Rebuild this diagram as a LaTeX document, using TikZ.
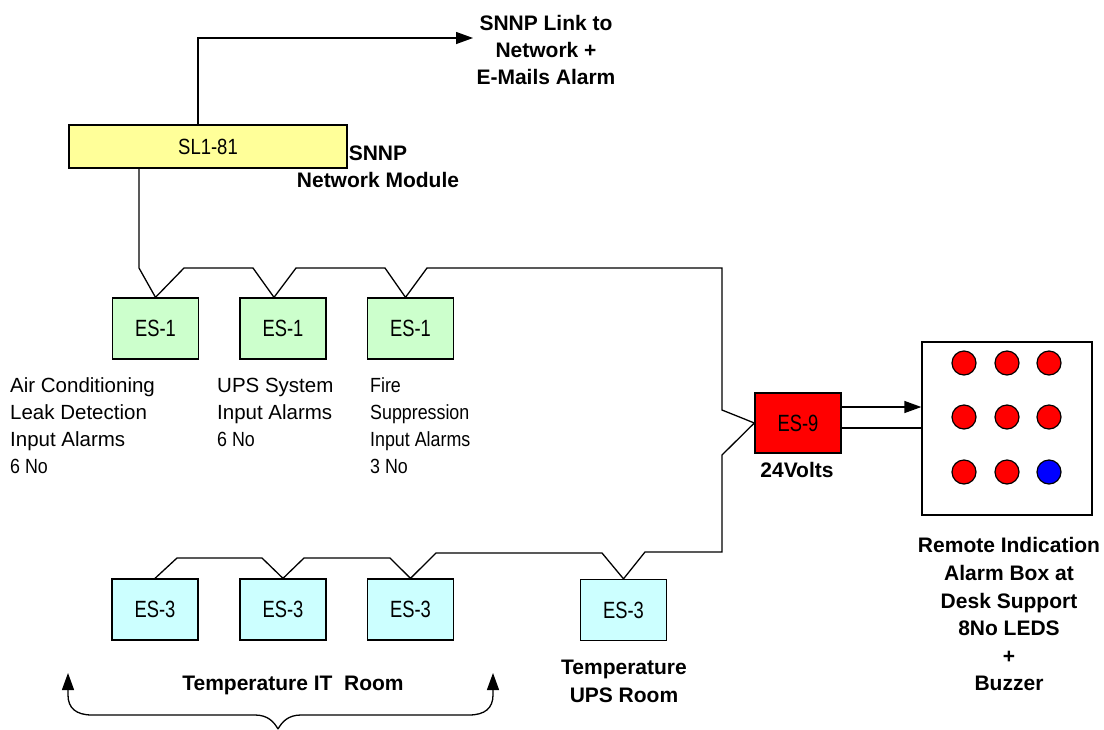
\documentclass[tikz,border=0pt]{standalone}
\usepackage{fontspec}
\setmainfont{Liberation Sans}
\newfontfamily\narrowA[FakeStretch=0.78]{Liberation Sans}
\newfontfamily\narrowS[FakeStretch=0.84]{Liberation Sans}
\newfontfamily\narrowB[FakeStretch=0.87]{Liberation Sans}
\usetikzlibrary{arrows.meta}
\definecolor{slyellow}{HTML}{FFFF99}
\definecolor{esgreen}{HTML}{CCFFCC}
\definecolor{escyan}{HTML}{CCFFFF}
\definecolor{esred}{HTML}{FF0000}
\definecolor{ledblue}{HTML}{0000FF}
\newcommand\boxfont{\narrowA\fontsize{23.5}{26}\selectfont}
\newcommand\lblfont{\fontsize{20.5}{27}\selectfont}
\newcommand\lblnarrow{\narrowB\fontsize{20.5}{27}\selectfont}
\newcommand\bfont{\bfseries\fontsize{21}{27}\selectfont}
\begin{document}
\begin{tikzpicture}[x=1pt,y=-1pt,
  wire/.style={line width=1.3pt},
  tiparrow/.style={-{Triangle[length=17pt,width=12pt]}},
  esbox/.style={draw, line width=1.3pt, minimum width=86pt, minimum height=61pt, inner sep=0pt, font=\boxfont},
  led/.style={circle, draw, line width=1.2pt, minimum size=24pt, inner sep=0pt},
  boldtxt/.style={font=\bfont, align=center, inner sep=0pt},
  lbl/.style={font=\lblfont, align=left, inner sep=0pt, anchor=north west},
  lbln/.style={font=\lblnarrow, align=left, inner sep=0pt, anchor=north west}]
\useasboundingbox (0,0) rectangle (1104,729);

% SL1-81 module
\node[esbox, fill=slyellow, minimum width=278pt, minimum height=43pt, font=\narrowS\fontsize{22}{26}\selectfont] (sl) at (208,146.5) {SL1-81\hspace{12pt}};
\node[boldtxt, anchor=north] (slnote) at (378,145.5) {SNNP\\Network Module};
\node[boldtxt, anchor=north] (link) at (546,15.5) {SNNP Link to\\Network +\\E-Mails Alarm};
\coordinate (linkend) at (473,38);
\draw[wire, tiparrow] ([xshift=-10pt]sl.north) |- (linkend);

% ES-1 row
\node[esbox, fill=esgreen] (es1a) at (155.5,328.5) {ES-1\hspace{18pt}};
\node[esbox, fill=esgreen] (es1b) at (283,328.5) {ES-1\hspace{18pt}};
\node[esbox, fill=esgreen] (es1c) at (410.5,328.5) {ES-1\hspace{18pt}};

\node[lbl] (l1) at (10,377.6) {Air Conditioning\\Leak Detection\\Input Alarms\\{\lblnarrow 6 No}};
\node[lbl] (l2) at (217,377.6) {UPS System\\Input Alarms\\{\lblnarrow 6 No}};
\node[lbln] (l3) at (370,377.6) {Fire\\Suppression\\Input Alarms\\3 No};

% ES-9
\node[esbox, fill=esred, minimum height=60pt] (es9) at (798,423) {ES-9\hspace{12pt}};
\node[boldtxt] (volts) at (797,470) {24Volts};

% ES-3 row
\node[esbox, fill=escyan] (es3a) at (155,609.5) {ES-3\hspace{14pt}};
\node[esbox, fill=escyan] (es3b) at (283,609.5) {ES-3\hspace{14pt}};
\node[esbox, fill=escyan] (es3c) at (410.5,609.5) {ES-3\hspace{14pt}};
\node[esbox, fill=escyan] (es3d) at (623.5,610) {ES-3\hspace{14pt}};
\node[boldtxt, anchor=base] (itroom) at (293,690.5) {Temperature IT\ \ Room};
\node[boldtxt, anchor=north, font=\bfseries\fontsize{21}{28}\selectfont] (upsroom) at (624,659.5) {Temperature\\UPS Room};

% bus wiring
\draw[wire] ([xshift=-69pt]sl.south) -- (139,268) -- (es1a.north) -- (184,268) -- (253,268)
  -- ([xshift=-9pt]es1b.north) -- (296,268) -- (385,268) -- ([xshift=-5pt]es1c.north)
  -- (427,268) -- (722,268) -- (722,410) -- (es9.west) -- (722,455) -- (722,552)
  -- (645,552) -- (es3d.north) -- (602,553) -- (436,553) -- (es3c.north)
  -- (390,558) -- (304,558) -- (es3b.north) -- (262,558) -- (177,558) -- (es3a.north);

% alarm box
\node[draw, line width=1.3pt, fill=white, minimum width=170pt, minimum height=173pt, inner sep=0pt] (abox) at (1007,428.5) {};
\node[led, fill=esred] (d1) at (964,363) {};
\node[led, fill=esred] (d2) at (1007,363) {};
\node[led, fill=esred] (d3) at (1049,363) {};
\node[led, fill=esred] (d4) at (964,417) {};
\node[led, fill=esred] (d5) at (1007,417) {};
\node[led, fill=esred] (d6) at (1049,417) {};
\node[led, fill=esred] (d7) at (964,472) {};
\node[led, fill=esred] (d8) at (1007,472) {};
\node[led, fill=ledblue] (d9) at (1049,472) {};
\node[boldtxt, anchor=north, font=\bfseries\fontsize{21}{27.6}\selectfont] (remote) at (1009,537.5) {Remote Indication\\Alarm Box at\\Desk Support\\8No LEDS\\+\\Buzzer};

\coordinate (o1) at ([yshift=16pt]es9.east);
\coordinate (o2) at ([yshift=-5pt]es9.east);
\draw[wire, tiparrow] (o1) -- (o1 -| abox.west);
\draw[wire] (o2) -- (o2 -| abox.west);

% brace with arrows
\coordinate (brL) at (68,673);
\coordinate (brR) at (493,673);
\coordinate (brM) at (278,729);
\draw[wire, {Triangle[length=17pt,width=12pt]}-] (brL) -- (68,695) .. controls (68,708) and (76,715) .. (92,715) -- (255,715) .. controls (268,715) and (274,722) .. (brM);
\draw[wire, {Triangle[length=17pt,width=12pt]}-] (brR) -- (493,695) .. controls (493,708) and (485,715) .. (469,715) -- (301,715) .. controls (288,715) and (282,722) .. (brM);
\end{tikzpicture}
\end{document}
